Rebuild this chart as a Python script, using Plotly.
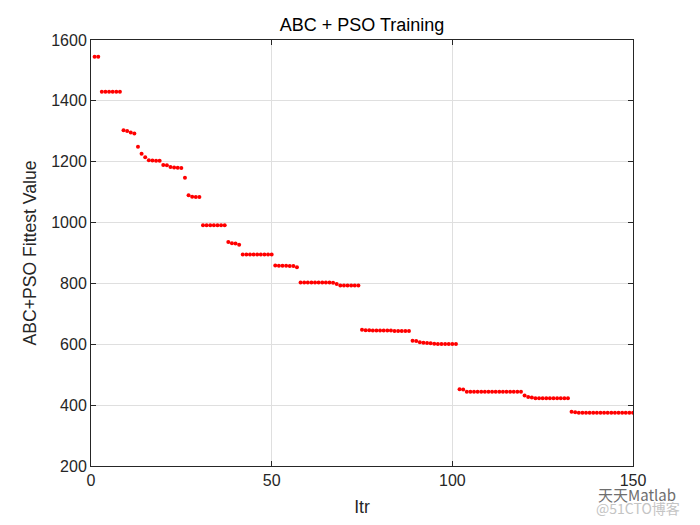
import plotly.graph_objects as go

iterations = list(range(1, 151))
fitness = (
    [1545, 1545]
    + [1430] * 6
    + [1303, 1301, 1296, 1293, 1249, 1226, 1215, 1205, 1204, 1203, 1203,
       1189, 1188, 1183, 1181, 1180, 1179, 1147, 1090, 1085, 1084, 1084]
    + [991] * 7
    + [936, 932, 931, 927]
    + [895] * 9
    + [859, 858, 858, 858, 857, 857, 853]
    + [803] * 9
    + [802, 798]
    + [793] * 6
    + [648, 646, 646, 645, 645, 645, 645, 645, 645, 644, 644, 644, 644, 644]
    + [612, 611, 607, 605, 604, 603, 602, 601, 601, 601, 601, 601, 601]
    + [452, 451]
    + [444] * 16
    + [432, 427, 425]
    + [423] * 10
    + [378, 377]
    + [375] * 16
)

x_ticks = [0, 50, 100, 150]
y_ticks = [200, 400, 600, 800, 1000, 1200, 1400, 1600]

FONT = "Liberation Sans, Arial"

fig = go.Figure()
fig.add_trace(go.Scatter(
    x=iterations, y=fitness, mode="markers",
    marker=dict(color="#ff0000", size=4, line=dict(width=0)),
    showlegend=False,
))

axis_common = dict(
    showline=True, linecolor="#262626", linewidth=1, mirror="ticks",
    ticks="inside", ticklen=5, tickcolor="#262626",
    showgrid=True, gridcolor="#dfdfdf", gridwidth=1,
    zeroline=False, automargin=False,
    tickfont=dict(family=FONT, size=16, color="#262626"),
)

# page body has an 8px default margin, so the figure is sized/shifted to compensate
fig.update_layout(
    width=684, height=509,
    paper_bgcolor="white", plot_bgcolor="white",
    margin=dict(l=83, r=59, t=32, b=51),
    title=dict(text="ABC + PSO Training", x=0.5, xanchor="center",
               xref="paper",
               y=1 - 17 / 509, yanchor="middle",
               font=dict(family=FONT, size=18, color="#000000")),
    xaxis=dict(range=[0, 150], tickvals=x_ticks,
               title=dict(text="Itr", standoff=14,
                          font=dict(family=FONT, size=17.6, color="#262626")),
               **axis_common),
    yaxis=dict(range=[200, 1600], tickvals=y_ticks,
               title=dict(text="ABC+PSO Fittest Value", standoff=10,
                          font=dict(family=FONT, size=17.6, color="#262626")),
               **axis_common),
)

fig.add_annotation(text="天天Matlab", xref="paper", yref="paper", x=1.083, y=-0.068,
                   xanchor="right", yanchor="middle", showarrow=False,
                   font=dict(family="Noto Sans CJK SC", size=15, color="#6e6e6e"))
fig.add_annotation(text="@51CTO博客", xref="paper", yref="paper", x=1.09, y=-0.099,
                   xanchor="right", yanchor="middle", showarrow=False,
                   font=dict(family="Noto Sans CJK SC", size=14, color="#c4c4c4"))

fig.write_html("out.html")
